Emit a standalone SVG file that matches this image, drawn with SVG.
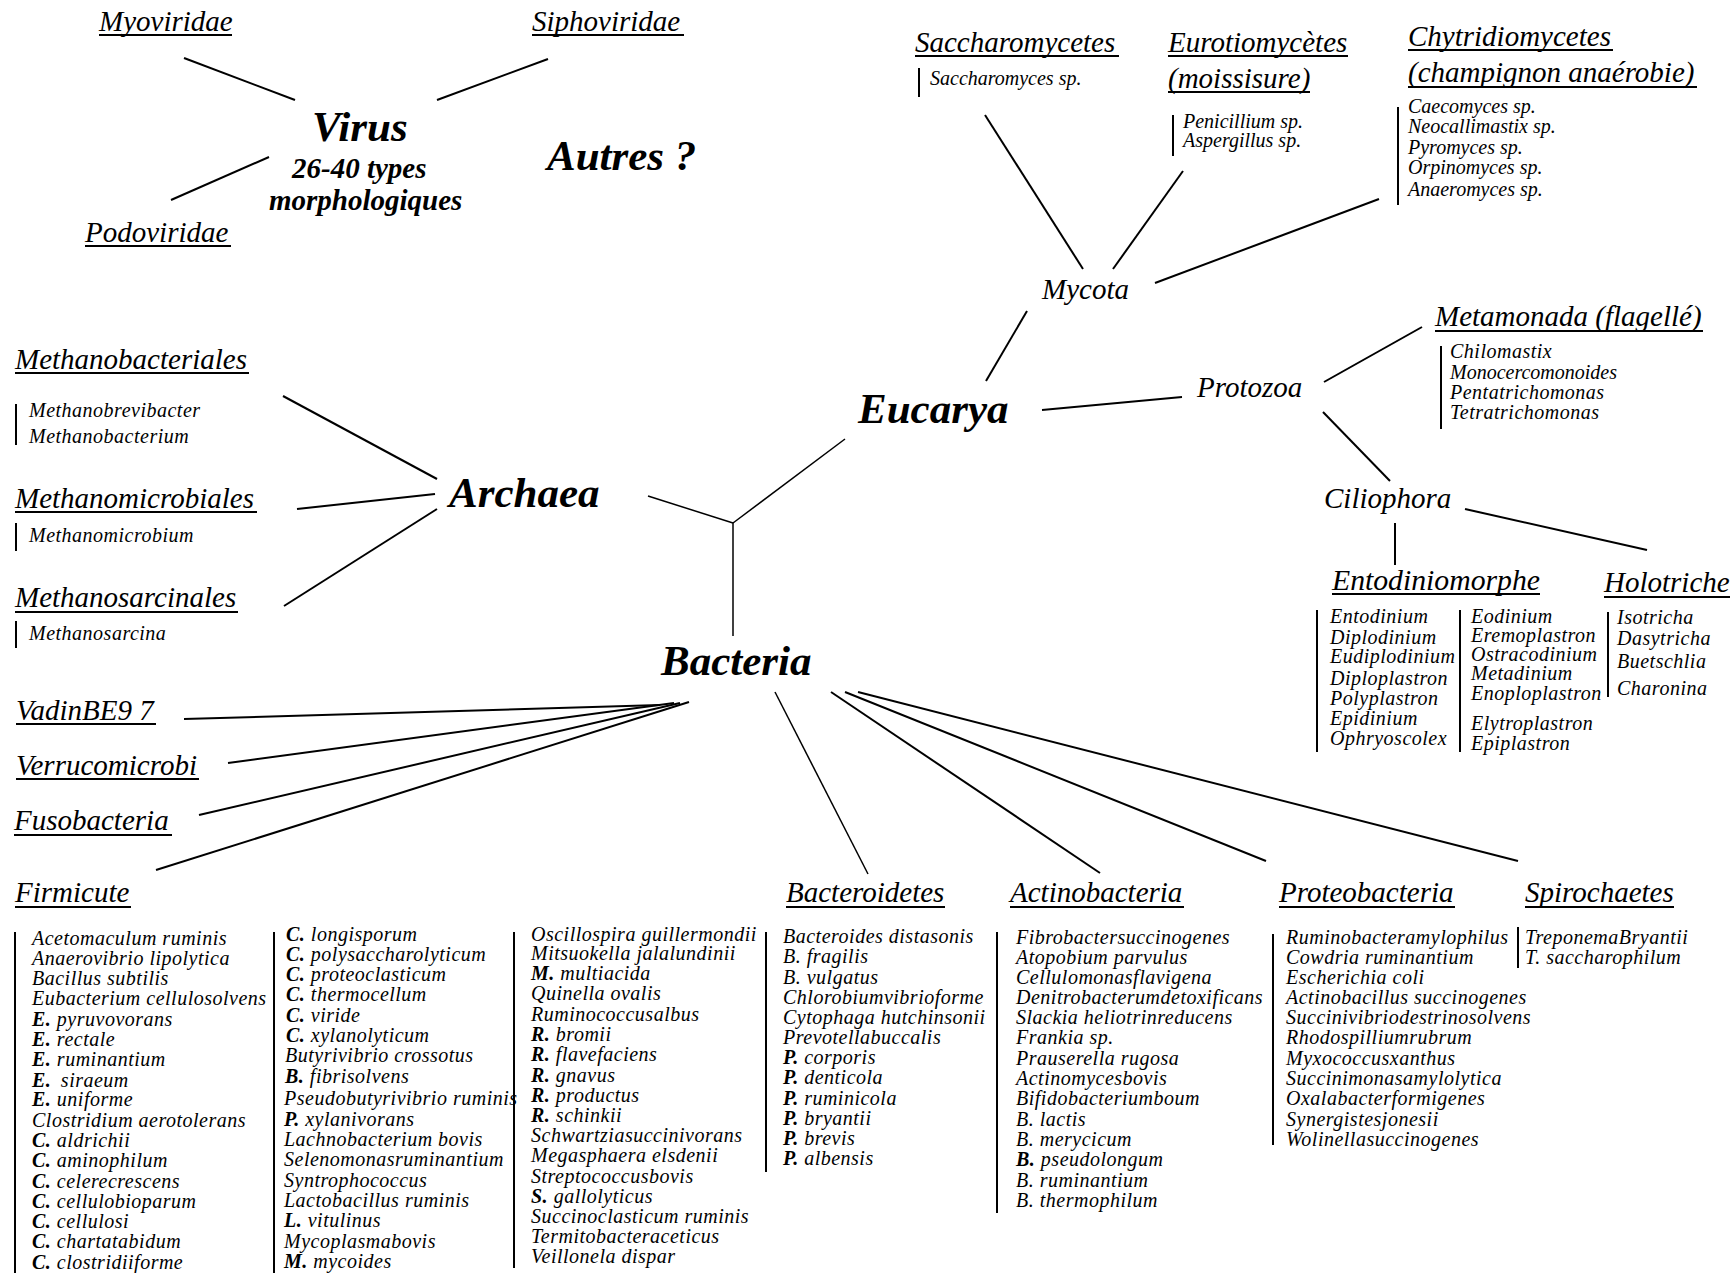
<svg xmlns="http://www.w3.org/2000/svg" width="1736" height="1273" viewBox="0 0 1736 1273">
<style>
text{font-family:"Liberation Serif","Times New Roman",serif;font-style:italic;fill:#000}
.h{font-size:29px}
.s{font-size:20px}
.sw{font-size:20px;letter-spacing:0.5px}
.b{font-size:43px;font-weight:bold}
.m{font-size:29px;font-weight:bold}
.k{font-weight:bold}
line{stroke:#000;stroke-linecap:butt}
.c{stroke-width:2}
.t{stroke-width:1.5}
.u{stroke-width:2}
.bar{stroke-width:2}
</style>
<rect width="1736" height="1273" fill="#fff"/>

<g id="connectors">
  <line class="c" x1="184" y1="58" x2="295" y2="100"/>
  <line class="c" x1="548" y1="59" x2="437" y2="100"/>
  <line class="c" x1="269" y1="157" x2="171" y2="200"/>
  <line class="c" x1="985" y1="115" x2="1083" y2="269"/>
  <line class="c" x1="1183" y1="171" x2="1113" y2="269"/>
  <line class="c" x1="1379" y1="199" x2="1155" y2="283"/>
  <line class="c" x1="1027" y1="311" x2="986" y2="381"/>
  <line class="c" x1="1042" y1="410" x2="1182" y2="397"/>
  <line class="c" x1="1324" y1="382" x2="1422" y2="327"/>
  <line class="c" x1="1323" y1="412" x2="1390" y2="481"/>
  <line class="c" x1="1395" y1="523" x2="1395" y2="565"/>
  <line class="c" x1="1465" y1="509" x2="1647" y2="550"/>
  <line class="c" x1="283" y1="396" x2="437" y2="479"/>
  <line class="c" x1="297" y1="509" x2="435" y2="494"/>
  <line class="c" x1="284" y1="606" x2="437" y2="509"/>
  <line class="t" x1="648" y1="496" x2="733" y2="523"/>
  <line class="t" x1="845" y1="439" x2="733" y2="523"/>
  <line class="t" x1="733" y1="523" x2="733" y2="636"/>
  <line class="c" x1="184" y1="719" x2="660" y2="705"/>
  <line class="c" x1="228" y1="763" x2="674" y2="703"/>
  <line class="c" x1="199" y1="815" x2="680" y2="703"/>
  <line class="c" x1="156" y1="870" x2="689" y2="702"/>
  <line class="t" x1="775" y1="692" x2="868" y2="874"/>
  <line class="c" x1="831" y1="692" x2="1100" y2="873"/>
  <line class="c" x1="845" y1="692" x2="1266" y2="861"/>
  <line class="c" x1="858" y1="692" x2="1518" y2="861"/>
</g>

<g id="virus">
  <text class="b" x="312" y="141">Virus</text>
  <text class="m" x="292" y="178">26-40 types</text>
  <text class="m" x="269" y="210">morphologiques</text>
</g>
<g id="myoviridae">
  <text class="h" x="99" y="31">Myoviridae</text>
  <line class="u" x1="99" y1="35" x2="232" y2="35"/>
</g>
<g id="siphoviridae">
  <text class="h" x="532" y="31">Siphoviridae</text>
  <line class="u" x1="532" y1="35" x2="684" y2="35"/>
</g>
<g id="podoviridae">
  <text class="h" x="85" y="242">Podoviridae</text>
  <line class="u" x1="85" y1="246" x2="231" y2="246"/>
</g>
<g id="autres">
  <text class="b" x="547" y="170">Autres ?</text>
</g>

<g id="saccharomycetes">
  <text class="h" x="915" y="52">Saccharomycetes</text>
  <line class="u" x1="915" y1="56" x2="1119" y2="56"/>
  <line class="bar" x1="919" y1="68" x2="919" y2="97"/>
  <text class="s" x="930" y="85">Saccharomyces sp.</text>
</g>
<g id="eurotiomycetes">
  <text class="h" x="1168" y="52">Eurotiomycètes</text>
  <line class="u" x1="1168" y1="56" x2="1348" y2="56"/>
  <text class="h" x="1168" y="88">(moissisure)</text>
  <line class="u" x1="1168" y1="92" x2="1310" y2="92"/>
  <line class="bar" x1="1173" y1="115" x2="1173" y2="156"/>
  <text class="s" x="1183" y="128">Penicillium sp.</text>
  <text class="s" x="1183" y="147">Aspergillus sp.</text>
</g>
<g id="chytridiomycetes">
  <text class="h" x="1408" y="46">Chytridiomycetes</text>
  <line class="u" x1="1408" y1="50" x2="1613" y2="50"/>
  <text class="h" x="1408" y="82">(champignon anaérobie)</text>
  <line class="u" x1="1408" y1="87" x2="1697" y2="87"/>
  <line class="bar" x1="1398" y1="107" x2="1398" y2="205"/>
  <text class="s" x="1408" y="113">Caecomyces sp.</text>
  <text class="s" x="1408" y="133">Neocallimastix sp.</text>
  <text class="s" x="1408" y="154">Pyromyces sp.</text>
  <text class="s" x="1408" y="174">Orpinomyces sp.</text>
  <text class="s" x="1408" y="196">Anaeromyces sp.</text>
</g>
<g id="mycota">
  <text class="h" x="1042" y="299">Mycota</text>
</g>
<g id="eucarya">
  <text class="b" x="858" y="423">Eucarya</text>
</g>
<g id="protozoa">
  <text class="h" x="1197" y="397">Protozoa</text>
</g>
<g id="metamonada">
  <text class="h" x="1435" y="326">Metamonada (flagellé)</text>
  <line class="u" x1="1435" y1="331" x2="1703" y2="331"/>
  <line class="bar" x1="1441" y1="346" x2="1441" y2="429"/>
  <text class="sw" x="1450" y="358">Chilomastix</text>
  <text class="s" x="1450" y="379">Monocercomonoides</text>
  <text class="sw" x="1450" y="399">Pentatrichomonas</text>
  <text class="sw" x="1450" y="419">Tetratrichomonas</text>
</g>
<g id="ciliophora">
  <text class="h" x="1324" y="508">Ciliophora</text>
</g>
<g id="entodiniomorphe">
  <text class="h" x="1332" y="590" textLength="208" lengthAdjust="spacingAndGlyphs">Entodiniomorphe</text>
  <line class="u" x1="1332" y1="594" x2="1540" y2="594"/>
  <line class="bar" x1="1317" y1="610" x2="1317" y2="752"/>
  <text class="sw" x="1330" y="623">Entodinium</text>
  <text class="sw" x="1330" y="644">Diplodinium</text>
  <text class="sw" x="1330" y="663">Eudiplodinium</text>
  <text class="sw" x="1330" y="685">Diploplastron</text>
  <text class="sw" x="1330" y="705">Polyplastron</text>
  <text class="sw" x="1330" y="725">Epidinium</text>
  <text class="sw" x="1330" y="745">Ophryoscolex</text>
  <line class="bar" x1="1460" y1="610" x2="1460" y2="752"/>
  <text class="sw" x="1471" y="623">Eodinium</text>
  <text class="sw" x="1471" y="642">Eremoplastron</text>
  <text class="sw" x="1471" y="661">Ostracodinium</text>
  <text class="sw" x="1471" y="680">Metadinium</text>
  <text class="sw" x="1471" y="700">Enoploplastron</text>
  <text class="sw" x="1471" y="730">Elytroplastron</text>
  <text class="sw" x="1471" y="750">Epiplastron</text>
</g>
<g id="holotriche">
  <text class="h" x="1604" y="592">Holotriche</text>
  <line class="u" x1="1604" y1="597" x2="1730" y2="597"/>
  <line class="bar" x1="1608" y1="612" x2="1608" y2="697"/>
  <text class="sw" x="1617" y="624">Isotricha</text>
  <text class="sw" x="1617" y="645">Dasytricha</text>
  <text class="sw" x="1617" y="668">Buetschlia</text>
  <text class="sw" x="1617" y="695">Charonina</text>
</g>

<g id="archaea">
  <text class="b" x="449" y="507">Archaea</text>
</g>
<g id="methanobacteriales">
  <text class="h" x="15" y="369">Methanobacteriales</text>
  <line class="u" x1="15" y1="373" x2="249" y2="373"/>
  <line class="bar" x1="16" y1="404" x2="16" y2="445"/>
  <text class="sw" x="29" y="417">Methanobrevibacter</text>
  <text class="sw" x="29" y="443">Methanobacterium</text>
</g>
<g id="methanomicrobiales">
  <text class="h" x="15" y="508">Methanomicrobiales</text>
  <line class="u" x1="15" y1="512" x2="257" y2="512"/>
  <line class="bar" x1="16" y1="523" x2="16" y2="551"/>
  <text class="sw" x="29" y="542">Methanomicrobium</text>
</g>
<g id="methanosarcinales">
  <text class="h" x="15" y="607">Methanosarcinales</text>
  <line class="u" x1="15" y1="612" x2="238" y2="612"/>
  <line class="bar" x1="16" y1="621" x2="16" y2="648"/>
  <text class="sw" x="29" y="640">Methanosarcina</text>
</g>

<g id="bacteria">
  <text class="b" x="661" y="675">Bacteria</text>
</g>
<g id="vadinbe97">
  <text class="h" x="16" y="720">VadinBE9 7</text>
  <line class="u" x1="16" y1="724" x2="156" y2="724"/>
</g>
<g id="verrucomicrobi">
  <text class="h" x="16" y="775">Verrucomicrobi</text>
  <line class="u" x1="16" y1="779" x2="199" y2="779"/>
</g>
<g id="fusobacteria">
  <text class="h" x="14" y="830">Fusobacteria</text>
  <line class="u" x1="14" y1="835" x2="172" y2="835"/>
</g>

<g id="firmicute">
  <text class="h" x="15" y="902">Firmicute</text>
  <line class="u" x1="15" y1="907" x2="131" y2="907"/>
  <line class="bar" x1="15" y1="932" x2="15" y2="1273"/>
  <text class="sw" x="32" y="945">Acetomaculum  ruminis</text>
  <text class="sw" x="32" y="965">Anaerovibrio  lipolytica</text>
  <text class="sw" x="32" y="985">Bacillus  subtilis</text>
  <text class="sw" x="32" y="1005">Eubacterium  cellulosolvens</text>
  <text class="sw" x="32" y="1026"><tspan class="k">E.</tspan> pyruvovorans</text>
  <text class="sw" x="32" y="1046"><tspan class="k">E.</tspan> rectale</text>
  <text class="sw" x="32" y="1066"><tspan class="k">E.</tspan> ruminantium</text>
  <text class="sw" x="32" y="1087"><tspan class="k">E.</tspan> <tspan dx="4">siraeum</tspan></text>
  <text class="sw" x="32" y="1106"><tspan class="k">E.</tspan> uniforme</text>
  <text class="sw" x="32" y="1127">Clostridium aerotolerans</text>
  <text class="sw" x="32" y="1147"><tspan class="k">C.</tspan> aldrichii</text>
  <text class="sw" x="32" y="1167"><tspan class="k">C.</tspan> aminophilum</text>
  <text class="sw" x="32" y="1188"><tspan class="k">C.</tspan> celerecrescens</text>
  <text class="sw" x="32" y="1208"><tspan class="k">C.</tspan> cellulobioparum</text>
  <text class="sw" x="32" y="1228"><tspan class="k">C.</tspan> cellulosi</text>
  <text class="sw" x="32" y="1248"><tspan class="k">C.</tspan> chartatabidum</text>
  <text class="sw" x="32" y="1269"><tspan class="k">C.</tspan> clostridiiforme</text>

  <line class="bar" x1="274" y1="932" x2="274" y2="1273"/>
  <text class="sw" x="286" y="941"><tspan class="k">C.</tspan> longisporum</text>
  <text class="sw" x="286" y="961"><tspan class="k">C.</tspan> polysaccharolyticum</text>
  <text class="sw" x="286" y="981"><tspan class="k">C.</tspan> proteoclasticum</text>
  <text class="sw" x="286" y="1001"><tspan class="k">C.</tspan> thermocellum</text>
  <text class="sw" x="286" y="1022"><tspan class="k">C.</tspan> viride</text>
  <text class="sw" x="286" y="1042"><tspan class="k">C.</tspan> xylanolyticum</text>
  <text class="sw" x="285" y="1062">Butyrivibrio crossotus</text>
  <text class="sw" x="285" y="1083"><tspan class="k">B.</tspan> fibrisolvens</text>
  <text class="sw" x="284" y="1105">Pseudobutyrivibrio  ruminis</text>
  <text class="sw" x="284" y="1126"><tspan class="k">P.</tspan> xylanivorans</text>
  <text class="sw" x="284" y="1146">Lachnobacterium bovis</text>
  <text class="sw" x="284" y="1166">Selenomonasruminantium</text>
  <text class="sw" x="284" y="1187">Syntrophococcus</text>
  <text class="sw" x="284" y="1207">Lactobacillus ruminis</text>
  <text class="sw" x="284" y="1227"><tspan class="k">L.</tspan> vitulinus</text>
  <text class="sw" x="284" y="1248">Mycoplasmabovis</text>
  <text class="sw" x="284" y="1268"><tspan class="k">M.</tspan> mycoides</text>

  <line class="bar" x1="514" y1="932" x2="514" y2="1268"/>
  <text class="sw" x="531" y="941">Oscillospira guillermondii</text>
  <text class="sw" x="531" y="960">Mitsuokella jalalundinii</text>
  <text class="sw" x="531" y="980"><tspan class="k">M.</tspan> multiacida</text>
  <text class="sw" x="531" y="1000">Quinella ovalis</text>
  <text class="sw" x="531" y="1021">Ruminococcusalbus</text>
  <text class="sw" x="531" y="1041"><tspan class="k">R.</tspan> bromii</text>
  <text class="sw" x="531" y="1061"><tspan class="k">R.</tspan> flavefaciens</text>
  <text class="sw" x="531" y="1082"><tspan class="k">R.</tspan> gnavus</text>
  <text class="sw" x="531" y="1102"><tspan class="k">R.</tspan> productus</text>
  <text class="sw" x="531" y="1122"><tspan class="k">R.</tspan> schinkii</text>
  <text class="sw" x="531" y="1142">Schwartziasuccinivorans</text>
  <text class="sw" x="531" y="1162">Megasphaera elsdenii</text>
  <text class="sw" x="531" y="1183">Streptococcusbovis</text>
  <text class="sw" x="531" y="1203"><tspan class="k">S.</tspan> gallolyticus</text>
  <text class="sw" x="531" y="1223">Succinoclasticum ruminis</text>
  <text class="sw" x="531" y="1243">Termitobacteraceticus</text>
  <text class="sw" x="531" y="1263">Veillonela dispar</text>
</g>

<g id="bacteroidetes">
  <text class="h" x="786" y="902">Bacteroidetes</text>
  <line class="u" x1="786" y1="907" x2="945" y2="907"/>
  <line class="bar" x1="766" y1="932" x2="766" y2="1172"/>
  <text class="sw" x="783" y="943">Bacteroides distasonis</text>
  <text class="sw" x="783" y="963">B. fragilis</text>
  <text class="sw" x="783" y="984">B. vulgatus</text>
  <text class="sw" x="783" y="1004">Chlorobiumvibrioforme</text>
  <text class="sw" x="783" y="1024">Cytophaga hutchinsonii</text>
  <text class="sw" x="783" y="1044">Prevotellabuccalis</text>
  <text class="sw" x="783" y="1064"><tspan class="k">P.</tspan> corporis</text>
  <text class="sw" x="783" y="1084"><tspan class="k">P.</tspan> denticola</text>
  <text class="sw" x="783" y="1105"><tspan class="k">P.</tspan> ruminicola</text>
  <text class="sw" x="783" y="1125"><tspan class="k">P.</tspan> bryantii</text>
  <text class="sw" x="783" y="1145"><tspan class="k">P.</tspan> brevis</text>
  <text class="sw" x="783" y="1165"><tspan class="k">P.</tspan> albensis</text>
</g>

<g id="actinobacteria">
  <text class="h" x="1010" y="902">Actinobacteria</text>
  <line class="u" x1="1010" y1="907" x2="1184" y2="907"/>
  <line class="bar" x1="997" y1="932" x2="997" y2="1213"/>
  <text class="sw" x="1016" y="944">Fibrobactersuccinogenes</text>
  <text class="sw" x="1016" y="964">Atopobium parvulus</text>
  <text class="sw" x="1016" y="984">Cellulomonasflavigena</text>
  <text class="sw" x="1016" y="1004">Denitrobacterumdetoxificans</text>
  <text class="sw" x="1016" y="1024">Slackia heliotrinreducens</text>
  <text class="sw" x="1016" y="1044">Frankia sp.</text>
  <text class="sw" x="1016" y="1065">Prauserella rugosa</text>
  <text class="sw" x="1016" y="1085">Actinomycesbovis</text>
  <text class="sw" x="1016" y="1105">Bifidobacteriumboum</text>
  <text class="sw" x="1016" y="1126">B. lactis</text>
  <text class="sw" x="1016" y="1146">B. merycicum</text>
  <text class="sw" x="1016" y="1166"><tspan class="k">B.</tspan> pseudolongum</text>
  <text class="sw" x="1016" y="1187">B. ruminantium</text>
  <text class="sw" x="1016" y="1207">B. thermophilum</text>
</g>

<g id="proteobacteria">
  <text class="h" x="1279" y="902">Proteobacteria</text>
  <line class="u" x1="1279" y1="907" x2="1455" y2="907"/>
  <line class="bar" x1="1273" y1="934" x2="1273" y2="1145"/>
  <text class="sw" x="1286" y="944">Ruminobacteramylophilus</text>
  <text class="sw" x="1286" y="964">Cowdria ruminantium</text>
  <text class="sw" x="1286" y="984">Escherichia coli</text>
  <text class="sw" x="1286" y="1004">Actinobacillus succinogenes</text>
  <text class="sw" x="1286" y="1024">Succinivibriodestrinosolvens</text>
  <text class="sw" x="1286" y="1044">Rhodospilliumrubrum</text>
  <text class="sw" x="1286" y="1065">Myxococcusxanthus</text>
  <text class="sw" x="1286" y="1085">Succinimonasamylolytica</text>
  <text class="sw" x="1286" y="1105">Oxalabacterformigenes</text>
  <text class="sw" x="1286" y="1126">Synergistesjonesii</text>
  <text class="sw" x="1286" y="1146">Wolinellasuccinogenes</text>
</g>

<g id="spirochaetes">
  <text class="h" x="1525" y="902">Spirochaetes</text>
  <line class="u" x1="1525" y1="907" x2="1674" y2="907"/>
  <line class="bar" x1="1518" y1="927" x2="1518" y2="968"/>
  <text class="sw" x="1525" y="944">TreponemaBryantii</text>
  <text class="sw" x="1525" y="964">T. saccharophilum</text>
</g>
</svg>
